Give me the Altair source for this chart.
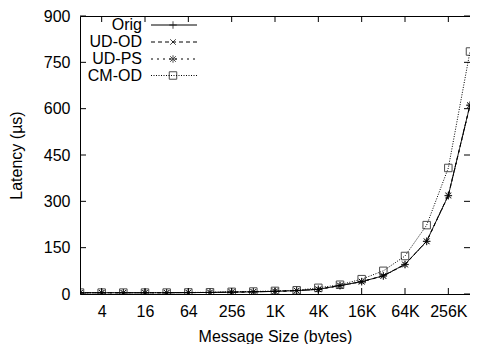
import altair as alt
import pandas as pd

sizes = [2 ** i for i in range(1, 20)]
orig = [4, 4, 4, 4, 4, 4.5, 5, 6, 7, 8.5, 11, 15, 27, 40, 59, 96, 171, 319, 612]
ud_od = [4, 4, 4, 4, 4, 4.5, 5, 6, 7, 8.5, 11, 15.5, 27.5, 40, 59, 96, 171, 320, 612]
ud_ps = [4, 4, 4, 4.2, 4.2, 4.6, 5, 6, 7, 8.5, 11, 15, 27, 40, 58, 95, 170, 318, 610]
cm_od = [4.5, 4.5, 4.5, 4.5, 4.6, 5, 5.5, 7, 8, 10, 12, 20, 30, 48, 75, 123, 223, 408, 785]

series = ["Orig", "UD-OD", "UD-PS", "CM-OD"]
x_ticks = [4, 16, 64, 256, 1024, 4096, 16384, 65536, 262144]
y_ticks = [0, 150, 300, 450, 600, 750, 900]

W, H = 390, 278
FONT = "Liberation Sans"

PLUS = "M-1,0L1,0M0,-1L0,1"
CROSS = "M-0.75,-0.75L0.75,0.75M-0.75,0.75L0.75,-0.75"
STAR = "M-1,0L1,0M0,-1L0,1M-0.75,-0.75L0.75,0.75M-0.75,0.75L0.75,-0.75"
shapes = [PLUS, CROSS, STAR, "square"]
dashes = [[1, 0], [4, 3], [2, 4], [1, 1.5]]

rows = []
for name, vals in zip(series, [orig, ud_od, ud_ps, cm_od]):
    for s, v in zip(sizes, vals):
        rows.append({"size": s, "latency": v, "series": name})
df = pd.DataFrame(rows)

xscale = alt.Scale(type="log", base=2, domain=[2, 524288], nice=False)
yscale = alt.Scale(domain=[0, 900], nice=False)

xaxis = alt.Axis(values=x_ticks, title="Message Size (bytes)",
                 labelExpr="datum.value >= 1024 ? (datum.value / 1024) + 'K' : datum.value",
                 grid=False, domain=False, ticks=False, labelPadding=9, titlePadding=9,
                 labelFontSize=16, titleFontSize=16, labelFont=FONT, titleFont=FONT,
                 titleFontWeight="normal", labelColor="black", titleColor="black", labelFlush=False)
yaxis = alt.Axis(values=y_ticks, title="Latency (µs)", grid=False, domain=False, ticks=False,
                 labelPadding=10, titlePadding=19, labelFontSize=16, titleFontSize=16,
                 labelFont=FONT, titleFont=FONT, titleFontWeight="normal",
                 labelColor="black", titleColor="black")

base = alt.Chart(df).encode(
    x=alt.X("size:Q", scale=xscale, axis=xaxis),
    y=alt.Y("latency:Q", scale=yscale, axis=yaxis),
)

lines = base.mark_line(color="black", strokeWidth=1, clip=True).encode(
    strokeDash=alt.StrokeDash("series:N", scale=alt.Scale(domain=series, range=dashes), legend=None),
    detail="series:N",
)
points = base.mark_point(color="black", filled=False, strokeWidth=1, size=56, clip=True).encode(
    shape=alt.Shape("series:N", scale=alt.Scale(domain=series, range=shapes), legend=None),
)

# inward ticks (gnuplot style)
ytdf = pd.DataFrame({"v": y_ticks})
xtdf = pd.DataFrame({"v": x_ticks})
ty = alt.Y("v:Q", scale=yscale, axis=yaxis)
tx = alt.X("v:Q", scale=xscale, axis=xaxis)
yt_left = alt.Chart(ytdf).mark_rule(color="black").encode(y=ty, x=alt.value(0), x2=alt.value(6))
yt_right = alt.Chart(ytdf).mark_rule(color="black").encode(y=ty, x=alt.value(W - 6), x2=alt.value(W))
xt_bot = alt.Chart(xtdf).mark_rule(color="black").encode(x=tx, y=alt.value(H - 6), y2=alt.value(H))
xt_top = alt.Chart(xtdf).mark_rule(color="black").encode(x=tx, y=alt.value(0), y2=alt.value(6))

# legend (top-left, labels left of samples)
leg_y = [9.0, 26.0, 43.0, 59.5]
layers = [lines, points, yt_left, yt_right, xt_bot, xt_top]
for name, yy, sh, da in zip(series, leg_y, shapes, dashes):
    ldf = pd.DataFrame({"series": [name]})
    layers.append(alt.Chart(ldf).mark_text(align="right", baseline="middle", fontSize=16,
                                           font=FONT, color="black").encode(
        text="series:N", x=alt.value(62), y=alt.value(yy)))
    layers.append(alt.Chart(ldf).mark_rule(color="black", strokeWidth=1, strokeDash=da).encode(
        x=alt.value(71), x2=alt.value(117), y=alt.value(yy)))
    layers.append(alt.Chart(ldf).mark_point(color="black", filled=False, strokeWidth=1,
                                            size=56, shape=sh).encode(
        x=alt.value(93), y=alt.value(yy)))

chart = alt.layer(*layers).properties(
    width=W, height=H,
    autosize=alt.AutoSizeParams(type="none"),
    padding={"left": 72, "top": 8, "right": 0, "bottom": 50},
    background="white",
).configure_view(stroke="black", strokeWidth=1)

chart.save("out.html", embed_options={"renderer": "svg", "actions": False})
